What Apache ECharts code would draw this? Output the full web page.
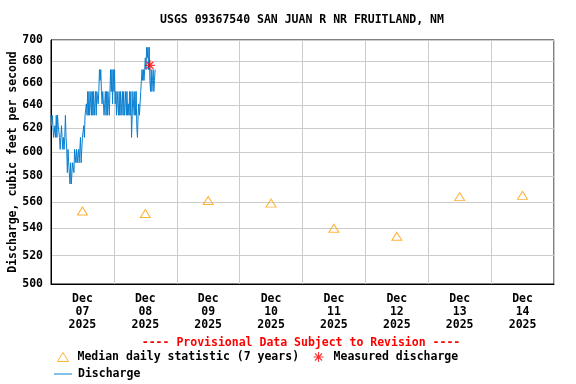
<!DOCTYPE html>
<html>
<head>
<meta charset="utf-8">
<script src="https://cdn.jsdelivr.net/npm/echarts@6/dist/echarts.min.js"></script>
<style>html,body{margin:0;padding:0;background:#fff;}#c{width:576px;height:384px;}</style>
</head>
<body>
<div id="c"></div>
<script>
// ---- data ----
const titleText = 'USGS 09367540 SAN JUAN R NR FRUITLAND, NM';
const startTime = '2025-12-07T00:00:00Z';   // first discharge reading, 15-minute interval
const stepMinutes = 15;
const discharge = [
  631,622,631,622, 612,612,622,612, 631,612,631,622, 622,612,602,612,
  622,612,602,612, 602,612,631,612, 602,583,602,591, 591,574,591,574,
  583,591,591,583, 602,602,591,602, 591,591,602,591, 591,612,591,602,
  612,612,622,612, 631,631,641,631, 652,631,652,631, 641,652,631,652,
  631,652,631,641, 652,631,652,652, 641,652,672,662, 672,652,641,652,
  652,631,641,652, 631,652,631,652, 641,631,652,672, 652,672,641,672,
  652,672,641,652, 631,652,641,631, 652,631,652,631, 641,652,631,652,
  631,641,652,631, 652,631,641,631, 652,631,652,612, 631,652,641,631,
  652,631,652,621, 612,631,641,631, 641,652,662,672, 662,672,662,672,
  683,672,693,683, 693,672,693,662, 652,672,652,662, 672,652,662,672
];
const medianDates = ['2025-12-07','2025-12-08','2025-12-09','2025-12-10','2025-12-11','2025-12-12','2025-12-13','2025-12-14'];
const medianValues = [553, 551, 561, 559, 540, 534, 564, 565];
const measuredTimes = ['2025-12-08T13:45:00Z'];
const measuredValues = [676];
const yTicks = [500, 520, 540, 560, 580, 600, 620, 640, 660, 680, 700];
const xStart = '2025-12-07';
const xEnd = '2025-12-15';
const xLabelMonth = 'Dec';
const xLabelYear = '2025';

// ---- build ----
const DAY = 86400000;
const L = Math.log10;
const t0 = Date.parse(startTime);
const dischargeData = discharge.map((v, i) => [t0 + i * stepMinutes * 60000, L(v)]);
const medianData = medianDates.map((d, i) => [Date.parse(d + 'T12:00:00Z'), L(medianValues[i])]);
const measuredData = measuredTimes.map((t, i) => [Date.parse(t), L(measuredValues[i])]);
const xMin = Date.parse(xStart + 'T00:00:00Z');
const xMax = Date.parse(xEnd + 'T00:00:00Z');
const xLabelPos = medianDates.map(d => Date.parse(d + 'T12:00:00Z'));

const FONT = 'DejaVu Sans Mono';
const txt = {fontFamily: FONT, fontWeight: 'bold', fontSize: 11.5, color: '#000'};
const asterisk = 'path://M5,0L5,10M0,5L10,5M1.5,1.5L8.5,8.5M1.5,8.5L8.5,1.5';
const BLUE = '#0a80d0', ORANGE = '#ffa000', RED = '#ff0000';

const chart = echarts.init(document.getElementById('c'), null, {renderer: 'canvas'});
chart.setOption({
  animation: false,
  backgroundColor: '#fff',
  grid: {left: 51, right: 22, top: 40, bottom: 100, show: true, borderColor: '#000', borderWidth: 1,
         backgroundColor: 'transparent', containLabel: false, outerBoundsMode: 'none'},
  graphic: [
    {type: 'text', x: 302, y: 20, style: {text: titleText, textAlign: 'center', textVerticalAlign: 'middle', fill: '#000', font: 'bold 11.5px "' + FONT + '"'}},
    {type: 'text', x: 301, y: 343, style: {text: '---- Provisional Data Subject to Revision ----', textAlign: 'center', textVerticalAlign: 'middle', fill: RED, font: 'bold 11.5px "' + FONT + '"'}}
  ],
  legend: [
    {data: [{name: 'Median daily statistic (7 years)', icon: 'triangle', itemStyle: {color: 'transparent', borderColor: ORANGE, borderWidth: 1}}],
     left: 57, top: 351, padding: 0, itemWidth: 11, itemHeight: 9, textStyle: Object.assign({}, txt, {padding: [0, 0, 0, 4]})},
    {data: [{name: 'Measured discharge', icon: asterisk, itemStyle: {color: 'transparent', borderColor: RED, borderWidth: 1.1}}],
     left: 313, top: 351, padding: 0, itemWidth: 10, itemHeight: 10, textStyle: Object.assign({}, txt, {padding: [0, 0, 0, 5]})},
    {data: [{name: 'Discharge', icon: 'path://M0,0L18,0L18,1L0,1Z', itemStyle: {color: BLUE}}],
     left: 54, top: 368, padding: 0, itemWidth: 18, itemHeight: 1, textStyle: Object.assign({}, txt, {padding: [0, 0, 0, 1]})}
  ],
  xAxis: {
    type: 'value', min: xMin, max: xMax, interval: DAY,
    axisLine: {show: true, lineStyle: {color: '#000'}},
    axisTick: {show: false},
    splitLine: {show: true, lineStyle: {color: '#cccccc', width: 1}},
    axisLabel: {
      customValues: xLabelPos, margin: 9, lineHeight: 13,
      fontFamily: FONT, fontWeight: 'bold', fontSize: 11.5, color: '#000',
      formatter: v => { const d = new Date(v); return xLabelMonth + '\n' + String(d.getUTCDate()).padStart(2, '0') + '\n' + xLabelYear; }
    }
  },
  yAxis: {
    type: 'value', min: L(yTicks[0]), max: L(yTicks[yTicks.length - 1]),
    name: 'Discharge, cubic feet per second', nameLocation: 'middle', nameGap: 32, nameMoveOverlap: false,
    nameTextStyle: {fontFamily: FONT, fontWeight: 'bold', fontSize: 11.5, color: '#000'},
    axisLine: {show: true, lineStyle: {color: '#000'}},
    axisTick: {show: false, customValues: yTicks.map(L)},
    splitLine: {show: true, lineStyle: {color: '#cccccc', width: 1}},
    axisLabel: {
      customValues: yTicks.map(L), margin: 8,
      fontFamily: FONT, fontWeight: 'bold', fontSize: 11.5, color: '#000',
      formatter: v => String(Math.round(Math.pow(10, v)))
    }
  },
  series: [
    {name: 'Discharge', type: 'line', data: dischargeData, symbol: 'none', showSymbol: false, step: 'end',
     lineStyle: {color: BLUE, width: 1}, itemStyle: {color: BLUE}, z: 2},
    {name: 'Median daily statistic (7 years)', type: 'scatter', data: medianData, symbol: 'triangle', symbolSize: [10, 8],
     itemStyle: {color: 'transparent', borderColor: ORANGE, borderWidth: 1}, z: 3},
    {name: 'Measured discharge', type: 'scatter', data: measuredData, symbol: asterisk, symbolSize: 10,
     itemStyle: {color: 'transparent', borderColor: RED, borderWidth: 1.3}, z: 4}
  ]
});
</script>
</body>
</html>
